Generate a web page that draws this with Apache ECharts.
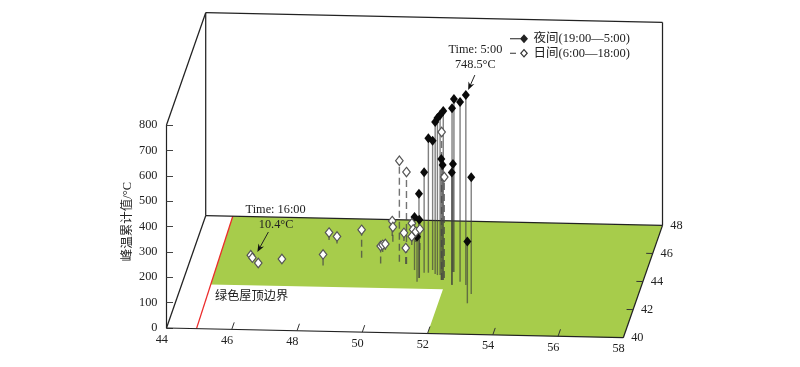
<!DOCTYPE html>
<html>
<head>
<meta charset="utf-8">
<style>html,body{margin:0;padding:0;background:#fff}#chart{width:800px;height:367px}</style>
<script src="https://cdn.jsdelivr.net/npm/echarts@6/dist/echarts.min.js"></script>
</head>
<body>
<div id="chart"></div>
<script>
// [x, y, value]
var nightPoints = [
    [52.65,43.49,748.5],[52.44,43.71,708],[52.15,44.39,682],[52.23,43.47,697],[51.91,43.81,666],
    [51.76,44.16,630],[51.68,44.15,619],[51.60,44.22,599],[51.38,44.30,530],[51.48,44.50,509],
    [51.85,43.81,477],[51.89,43.81,453],[52.12,44.39,426],[52.22,43.49,442],[51.25,44.30,396],
    [52.91,42.86,460],[51.15,43.91,332],[52.89,42.20,243],[50.93,44.47,209],[51.16,43.92,229],
    [51.13,43.65,177]
];
var dayPoints = [
    [45.82,45.08,10.4],[45.90,44.87,13],[46.13,44.54,11],[46.81,44.84,12],[48.10,44.65,44],
    [48.01,46.47,29],[48.29,46.23,28],[49.19,45.26,110],[49.83,44.88,69],[49.77,45.70,28],
    [49.83,45.84,24],[49.89,46.84,59],[49.97,46.44,58],[50.38,45.04,398],[50.62,44.89,362],
    [50.30,46.51,32],[50.60,44.88,63],[50.51,46.73,58],[50.57,46.59,42],[50.58,46.24,33],
    [50.67,46.45,41],[50.88,45.90,82],[51.86,43.81,583],[51.92,43.95,398]
];
var nightName = '夜间(19:00—5:00)';
var dayName = '日间(6:00—18:00)';
var xTicks = [44,46,48,50,52,54,56,58];
var yTicks = [40,42,44,46,48];
var greenRoof = [[44.83,48],[58,48],[58,40],[52,40],[52,43.15],[44.88,43.15]];
var roofBoundary = [[44.92,40],[44.83,48]];
// box edges, [x1,y1,z1,x2,y2,z2]
var boxEdges = [
    [44,40,0,58,40,0],[58,40,0,58,48,0],[44,48,0,58,48,0],[44,40,0,44,48,0],
    [44,48,0,44,48,800],[58,48,0,58,48,800],[44,48,800,58,48,800],[44,40,800,44,48,800]
];

var fontName = '"Liberation Serif","Noto Sans CJK SC"';
var textColor = '#222';

// oblique projection onto the x / value plane
function project(x, y, z) {
    return [x + (y - 40) * 0.1502, z + (y - 40) * 55.32 - (x - 44) * 2.73];
}
function toPixel(api, x, y, z) {
    return api.coord(project(x, y, z));
}
function label(text, x, y, align) {
    return {
        type: 'text',
        style: { text: text, x: x, y: y, align: align || 'center', verticalAlign: 'middle',
            fill: textColor, font: '12.3px ' + fontName }
    };
}

function renderFloor(params, api) {
    if (params.dataIndex > 0) return;
    var pts = greenRoof.map(function (p) { return toPixel(api, p[0], p[1], 0); });
    var a = toPixel(api, roofBoundary[0][0], roofBoundary[0][1], 0);
    var b = toPixel(api, roofBoundary[1][0], roofBoundary[1][1], 0);
    return {
        type: 'group',
        children: [
            { type: 'polygon', shape: { points: pts }, style: { fill: '#a7cc4b' } },
            { type: 'line', shape: { x1: a[0], y1: a[1], x2: b[0], y2: b[1] },
              style: { stroke: '#ec2c2c', lineWidth: 1.3 } }
        ]
    };
}

function renderEdge(params, api) {
    var a = toPixel(api, api.value(0), api.value(1), api.value(2));
    var b = toPixel(api, api.value(3), api.value(4), api.value(5));
    return {
        type: 'line',
        shape: { x1: a[0], y1: a[1], x2: b[0], y2: b[1] },
        style: { stroke: '#222', lineWidth: 1.25 }
    };
}

function renderXTick(params, api) {
    var v = api.value(0);
    var a = toPixel(api, v, 40, 0);
    var b = toPixel(api, v, 40.5, 0);
    var kids = [label(String(v), a[0] - 4.7, a[1] + 11.3)];
    if (v > 44 && v < 58) {
        kids.push({ type: 'line', shape: { x1: a[0], y1: a[1], x2: b[0], y2: b[1] },
            style: { stroke: '#333', lineWidth: 1 } });
    }
    return { type: 'group', children: kids };
}

function renderYTick(params, api) {
    var v = api.value(0);
    var a = toPixel(api, 58, v, 0);
    var b = toPixel(api, 57.8, v, 0);
    var kids = [label(String(v), a[0] + 14, a[1] + 0.3)];
    if (v > 40 && v < 48) {
        kids.push({ type: 'line', shape: { x1: a[0], y1: a[1], x2: b[0], y2: b[1] },
            style: { stroke: '#333', lineWidth: 1 } });
    }
    return { type: 'group', children: kids };
}

function stemRenderer(dash) {
    return function (params, api) {
        var a = toPixel(api, api.value(0), api.value(1), 0);
        var b = toPixel(api, api.value(0), api.value(1), api.value(2));
        return {
            type: 'line',
            shape: { x1: a[0], y1: a[1], x2: b[0], y2: b[1] },
            style: { stroke: dash ? 'rgba(70,70,70,0.75)' : 'rgba(60,60,60,0.65)', lineWidth: 1.4,
                lineDash: dash ? [7, 4] : null }
        };
    };
}

// arrow and two lines of text, placed relative to the point they describe
function calloutRenderer(point, lines, tip, tail, textDx, textDy) {
    return function (params, api) {
        var p = toPixel(api, point[0], point[1], point[2]);
        var tx = p[0] + tip[0], ty = p[1] + tip[1];
        var sx = p[0] + tail[0], sy = p[1] + tail[1];
        var len = Math.sqrt((sx - tx) * (sx - tx) + (sy - ty) * (sy - ty));
        var ux = (sx - tx) / len, uy = (sy - ty) / len;
        return {
            type: 'group',
            children: [
                { type: 'line', shape: { x1: sx, y1: sy, x2: tx + ux * 4, y2: ty + uy * 4 },
                  style: { stroke: '#222', lineWidth: 1 } },
                { type: 'polygon', shape: { points: [
                    [tx, ty],
                    [tx + ux * 8 - uy * 3.2, ty + uy * 8 + ux * 3.2],
                    [tx + ux * 5.5, ty + uy * 5.5],
                    [tx + ux * 8 + uy * 3.2, ty + uy * 8 - ux * 3.2]
                ] }, style: { fill: '#111' } },
                label(lines[0], p[0] + textDx[0], p[1] + textDy[0]),
                label(lines[1], p[0] + textDx[1], p[1] + textDy[1])
            ]
        };
    };
}

function customSeries(data, renderItem, z) {
    return { type: 'custom', data: data, renderItem: renderItem, z: z, silent: true, clip: false };
}

var chart = echarts.init(document.getElementById('chart'));

var option = {
    animation: false,
    backgroundColor: '#fff',
    grid: { left: 166.5, right: 176.7, top: 125, bottom: 39 },
    legend: {
        orient: 'vertical',
        left: 510,
        top: 32.5,
        padding: 0,
        itemWidth: 19,
        itemHeight: 9,
        itemGap: 2,
        selectedMode: false,
        textStyle: { fontFamily: fontName, fontSize: 12.5, color: textColor },
        data: [
            { name: nightName, icon: 'path://M0 4H11V5H0Z M10 4.5L14 0L18 4.5L14 9Z',
              itemStyle: { color: '#222', borderWidth: 0 } },
            { name: dayName, icon: 'path://M0 4H6V5H0Z M10 4.5L14 0L18 4.5L14 9Z M11.6 4.5L14 7.3L16.4 4.5L14 1.7Z',
              itemStyle: { color: '#333', borderWidth: 0 } }
        ]
    },
    xAxis: { type: 'value', min: 44, max: 58, show: false },
    yAxis: {
        type: 'value',
        min: 0,
        max: 800,
        interval: 100,
        name: '峰温累计值/°C',
        nameLocation: 'middle',
        nameGap: 33,
        nameMoveOverlap: false,
        nameTextStyle: { fontFamily: fontName, fontSize: 12.5, color: textColor, padding: [0, 0, 0, 10] },
        axisLine: { show: true, lineStyle: { color: '#222', width: 1.2 } },
        axisTick: { show: true, inside: true, length: 6.5, lineStyle: { color: '#444' } },
        axisLabel: { margin: 9, fontFamily: fontName, fontSize: 12.3, color: textColor },
        splitLine: { show: false }
    },
    series: [
        customSeries([0], renderFloor, 1),
        customSeries(boxEdges, renderEdge, 2),
        customSeries(xTicks.map(function (v) { return [v]; }), renderXTick, 2),
        customSeries(yTicks.map(function (v) { return [v]; }), renderYTick, 2),
        customSeries(nightPoints, stemRenderer(false), 3),
        customSeries(dayPoints, stemRenderer(true), 3),
        {
            name: nightName,
            type: 'scatter',
            z: 4,
            clip: false,
            silent: true,
            symbol: 'diamond',
            symbolSize: [8, 10],
            itemStyle: { color: '#0a0a0a', opacity: 1 },
            data: nightPoints.map(function (p) { return project(p[0], p[1], p[2]); })
        },
        {
            name: dayName,
            type: 'scatter',
            z: 5,
            clip: false,
            silent: true,
            symbol: 'diamond',
            symbolSize: [7.5, 9.5],
            itemStyle: { color: '#fff', borderColor: '#555', borderWidth: 1.2, opacity: 1 },
            data: dayPoints.map(function (p) { return project(p[0], p[1], p[2]); })
        },
        customSeries([0], calloutRenderer(nightPoints[0], ['Time: 5:00', '748.5°C'],
            [2.3, -5], [9, -20], [9.5, 9.5], [-45, -30]), 6),
        customSeries([0], calloutRenderer(dayPoints[0], ['Time: 16:00', '10.4°C'],
            [6.6, -3.3], [17.6, -23.3], [24.8, 25.3], [-46, -31]), 6)
    ],
    graphic: [{
        type: 'text',
        left: 215,
        top: 291,
        z: 7,
        style: { text: '绿色屋顶边界', fill: textColor, font: '12.2px ' + fontName }
    }]
};

chart.setOption(option);
</script>
</body>
</html>
